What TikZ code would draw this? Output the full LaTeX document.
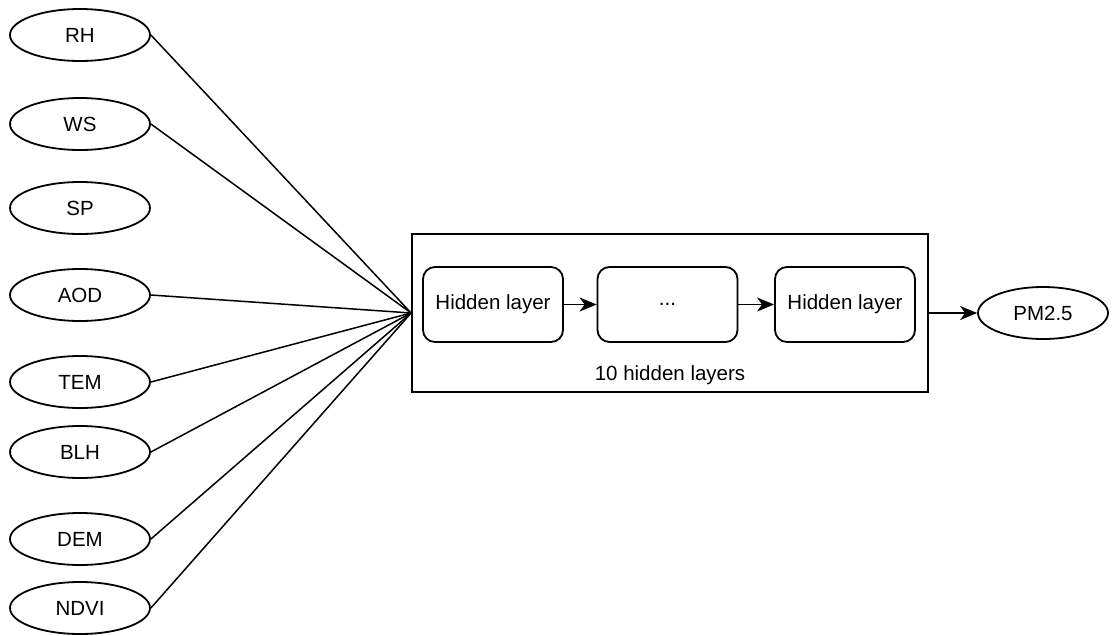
\documentclass[tikz,border=0pt]{standalone}
\usepackage{fontspec}
\setmainfont{Liberation Sans}
\usetikzlibrary{shapes.geometric,arrows.meta}
\begin{document}
\begin{tikzpicture}[x=1pt,y=-1pt,
  every node/.style={font=\fontsize{20.5}{24}\selectfont},
  inp/.style={draw,ellipse,line width=1.8pt,minimum width=140pt,minimum height=52pt,inner sep=0pt},
  layer/.style={draw,rounded corners=12pt,line width=1.8pt,minimum width=140pt,minimum height=75pt,inner sep=0pt},
  wire/.style={line width=1.5pt},
  flow/.style={line width=1.8pt,-{Stealth[length=17pt,width=14pt,inset=5pt]}}]
\useasboundingbox (0,0) rectangle (1113,635);
% input variables
\node[inp] (rh)   at (80,35)  {RH};
\node[inp] (ws)   at (80,124) {WS};
\node[inp] (sp)   at (80,208) {SP};
\node[inp] (aod)  at (80,295) {AOD};
\node[inp] (tem)  at (80,382) {TEM};
\node[inp] (blh)  at (80,452) {BLH};
\node[inp] (dem)  at (80,539) {DEM};
\node[inp] (ndvi) at (80,608) {NDVI};
% network block
\node[draw,line width=1.8pt,minimum width=516pt,minimum height=158pt,inner sep=0pt] (net) at (670,313) {};
\node[layer] (h1) at (493,304.5) {Hidden layer};
\node[layer] (h2) at (667.5,304.5) {...};
\node[layer] (h3) at (845,304.5) {Hidden layer};
\node (cap) at (670,375) {10 hidden layers};
% output
\node[inp,minimum width=130pt] (pm) at (1043,313) {PM2.5};
% connections
\foreach \n in {rh,ws,aod,tem,blh,dem,ndvi}
  \draw[wire] (\n.east) -- (net.west);
\draw[flow] (h1) -- (h2);
\draw[flow] (h2) -- (h3);
\draw[flow] (net.east) -- (pm.west);
\end{tikzpicture}
\end{document}
